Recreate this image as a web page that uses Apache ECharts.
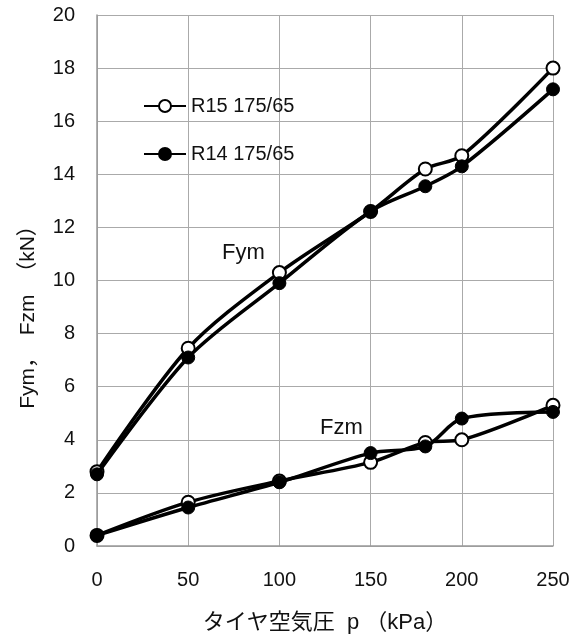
<!DOCTYPE html>
<html>
<head>
<meta charset="utf-8">
<script src="https://cdn.jsdelivr.net/npm/echarts@6/dist/echarts.min.js"></script>
<style>
  html, body { margin: 0; padding: 0; background: #fff; }
  #chart { width: 584px; height: 639px; }
</style>
</head>
<body>
<div id="chart"></div>
<script>
// タイヤ空気圧 p (kPa)
const pressure = [0, 50, 100, 150, 180, 200, 250];
// R15 175/65
const r15Fym = [2.8, 7.45, 10.3, 12.6, 14.2, 14.7, 18.0];
const r15Fzm = [0.4, 1.65, 2.45, 3.15, 3.9, 4.0, 5.3];
// R14 175/65
const r14Fym = [2.7, 7.1, 9.9, 12.6, 13.55, 14.3, 17.2];
const r14Fzm = [0.4, 1.45, 2.4, 3.5, 3.75, 4.8, 5.05];

const legendNames = ['R15 175/65', 'R14 175/65'];
const FONT = 'Liberation Sans, Noto Sans CJK JP, sans-serif';

function pairs(xs, ys) {
  return xs.map((x, i) => [x, ys[i]]);
}

// open circle / filled circle
function lineSeries(name, ys, open) {
  return {
    name: name,
    type: 'line',
    data: pairs(pressure, ys),
    smooth: 0.3,
    symbol: 'circle',
    symbolSize: 13,
    z: open ? 2 : 3,
    lineStyle: { color: '#000', width: 3.5 },
    itemStyle: open
      ? { color: '#fff', borderColor: '#000', borderWidth: 2 }
      : { color: '#000', borderColor: '#000', borderWidth: 1 },
    emphasis: { disabled: true }
  };
}

let chart = echarts.init(document.getElementById('chart'));
let option = {
  backgroundColor: '#fff',
  animation: false,
  grid: { left: 97, right: 31, top: 15, bottom: 90 },
  legend: {
    data: legendNames,
    orient: 'vertical',
    left: 138,
    top: 91,
    itemWidth: 42,
    itemHeight: 15,
    itemGap: 28,
    textStyle: { fontFamily: FONT, fontSize: 20, color: '#111', lineHeight: 20 }
  },
  xAxis: {
    type: 'value',
    min: 0,
    max: 250,
    interval: 50,
    name: 'タイヤ空気圧  p （kPa）',
    nameLocation: 'middle',
    nameGap: 66,
    nameTextStyle: { fontFamily: FONT, fontSize: 22, color: '#111' },
    axisLine: { show: true, lineStyle: { color: '#999', width: 1.5 } },
    axisTick: { show: false },
    axisLabel: { fontFamily: FONT, fontSize: 20, color: '#111', margin: 24 },
    splitLine: { show: true, lineStyle: { color: '#aaa', width: 1 } }
  },
  yAxis: {
    type: 'value',
    min: 0,
    max: 20,
    interval: 2,
    axisLine: { show: true, lineStyle: { color: '#999', width: 1.5 } },
    axisTick: { show: false },
    axisLabel: { fontFamily: FONT, fontSize: 20, color: '#111', margin: 22 },
    splitLine: { show: true, lineStyle: { color: '#aaa', width: 1 } }
  },
  graphic: [
    {
      type: 'text',
      x: 28,
      y: 312,
      rotation: Math.PI / 2,
      style: {
        text: 'Fym，  Fzm  （kN）',
        font: '21px ' + FONT,
        fill: '#111',
        align: 'center',
        verticalAlign: 'middle'
      }
    },
    {
      type: 'text',
      x: 222,
      y: 253,
      style: { text: 'Fym', font: '22px ' + FONT, fill: '#111', align: 'left', verticalAlign: 'middle' }
    },
    {
      type: 'text',
      x: 320,
      y: 428,
      style: { text: 'Fzm', font: '22px ' + FONT, fill: '#111', align: 'left', verticalAlign: 'middle' }
    }
  ],
  series: [
    lineSeries(legendNames[0], r15Fym, true),
    lineSeries(legendNames[0], r15Fzm, true),
    lineSeries(legendNames[1], r14Fym, false),
    lineSeries(legendNames[1], r14Fzm, false)
  ]
};
option && chart.setOption(option);
</script>
</body>
</html>
